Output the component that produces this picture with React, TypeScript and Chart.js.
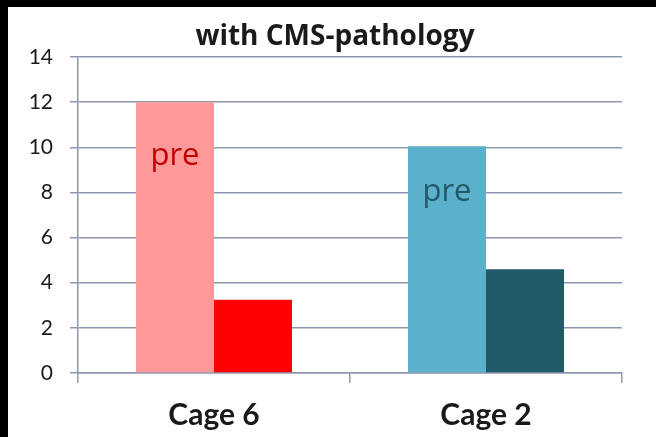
import React, { useEffect, useRef } from "react";
import { Chart, registerables } from "chart.js";

Chart.register(...registerables);

const categories = ["Cage 6", "Cage 2"];
const preValues = [12.0, 10.05];
const postValues = [3.25, 4.6];
const preColors = ["#FF9999", "#5BB1CB"];
const postColors = ["#FF0000", "#215B69"];
const preTextColors = ["#C00000", "#215968"];
const preLabel = "pre";
const titleText = "with CMS-pathology";

const gridColor = "#8E97B0";

const preTextPlugin = {
  id: "preText",
  afterDatasetsDraw(chart: any) {
    const meta = chart.getDatasetMeta(0);
    const ctx = chart.ctx;
    const yScale = chart.scales.y;
    const textAt = [9.6, 8.0];
    ctx.save();
    ctx.font = "31px 'Open Sans', sans-serif";
    ctx.textAlign = "center";
    ctx.textBaseline = "middle";
    meta.data.forEach((bar: any, i: number) => {
      ctx.fillStyle = preTextColors[i];
      ctx.fillText(preLabel, bar.x, yScale.getPixelForValue(textAt[i]));
    });
    ctx.restore();
  },
};

const titlePlugin = {
  id: "pageTitle",
  afterDraw(chart: any) {
    const ctx = chart.ctx;
    ctx.save();
    ctx.font = "bold 28px 'Open Sans', sans-serif";
    ctx.fillStyle = "#1a1a1a";
    ctx.textAlign = "center";
    ctx.textBaseline = "middle";
    ctx.fillText(titleText, chart.width / 2 + 3, 30);
    ctx.restore();
  },
};

export default function App() {
  const ref = useRef<HTMLCanvasElement>(null);
  useEffect(() => {
    if (!ref.current) return;
    const chart = new Chart(ref.current, {
      type: "bar",
      data: {
        labels: categories,
        datasets: [
          { label: "pre", data: preValues, backgroundColor: preColors, categoryPercentage: 0.5735, barPercentage: 1 },
          { label: "post", data: postValues, backgroundColor: postColors, categoryPercentage: 0.5735, barPercentage: 1 },
        ],
      },
      options: {
        animation: false,
        responsive: false,
        maintainAspectRatio: false,
        layout: { padding: { left: 0, right: 34, top: 50, bottom: 0 } },
        plugins: {
          legend: { display: false },
          tooltip: { enabled: false },
          title: { display: false },
        },
        scales: {
          x: {
            offset: true,
            grid: {
              offset: true,
              drawOnChartArea: false,
              drawTicks: true,
              tickLength: 10,
              color: gridColor,
              lineWidth: 1.5,
            },
            border: { color: gridColor, width: 1.5 },
            ticks: {
              color: "#1a1a1a",
              padding: 14,
              font: { family: "Lato, sans-serif", size: 30, weight: "bold" },
            },
            afterFit(scale: any) {
              scale.height = 64;
            },
          },
          y: {
            min: 0,
            max: 14,
            ticks: {
              stepSize: 2,
              color: "#1a1a1a",
              padding: 17,
              font: { family: "Lato, sans-serif", size: 21 },
            },
            grid: { color: gridColor, lineWidth: 1.5, tickLength: 8 },
            border: { color: gridColor, width: 1.5 },
            afterFit(scale: any) {
              scale.width = 70;
            },
          },
        },
      },
      plugins: [preTextPlugin, titlePlugin],
    });
    return () => chart.destroy();
  }, []);

  return (
    <div style={{ position: "absolute", left: 0, top: 0, width: 656, height: 437, background: "#000" }}>
      <div style={{ position: "absolute", left: 8, top: 7, width: 648, height: 430, background: "#fff" }}>
        <canvas ref={ref} width={648} height={430} style={{ display: "block", width: 648, height: 430 }} />
      </div>
    </div>
  );
}
